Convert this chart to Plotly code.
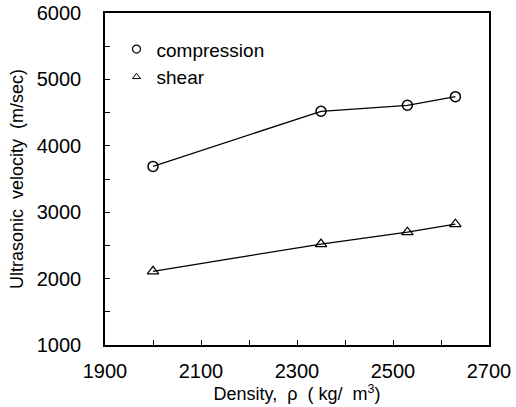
import plotly.graph_objects as go

density = [2000, 2350, 2530, 2630]
compression = [3690, 4520, 4610, 4740]
shear = [2110, 2520, 2700, 2820]

x_ticks = [1900, 2100, 2300, 2500, 2700]
y_ticks = [1000, 2000, 3000, 4000, 5000, 6000]

FONT = "Liberation Sans, Arial, sans-serif"

fig = go.Figure()
fig.add_trace(go.Scatter(x=density, y=compression, mode="lines+markers",
                         line=dict(color="black", width=1.3),
                         marker=dict(symbol="circle-open", size=10, color="black", line=dict(width=1.5)),
                         showlegend=False))
fig.add_trace(go.Scatter(x=density, y=shear, mode="lines+markers",
                         line=dict(color="black", width=1.3),
                         marker=dict(symbol="triangle-up-open", size=10, color="black", line=dict(width=1.2)),
                         showlegend=False))
fig.add_trace(go.Scatter(x=[None], y=[None], mode="markers", name="compression",
                         marker=dict(symbol="circle-open", size=8, color="black", line=dict(width=1.2))))
fig.add_trace(go.Scatter(x=[None], y=[None], mode="markers", name="shear",
                         marker=dict(symbol="triangle-up-open", size=7, color="black", line=dict(width=1))))

fig.update_layout(
    width=516, height=407,
    margin=dict(l=105, r=27, t=13, b=62),
    paper_bgcolor="white", plot_bgcolor="white",
    font=dict(family=FONT, color="black"),
    legend=dict(x=0.03, y=0.948, xanchor="left", yanchor="top",
                bgcolor="rgba(0,0,0,0)", font=dict(size=19, family=FONT),
                itemwidth=30, tracegroupgap=0),
    xaxis=dict(range=[1900, 2700], tickvals=x_ticks, ticktext=[str(v) for v in x_ticks],
               showgrid=False, zeroline=False, showline=True, linecolor="black", linewidth=1.5,
               mirror=True, ticks="inside", ticklen=5, tickcolor="black", automargin=False,
               minor=dict(dtick=100, ticks="inside", ticklen=5, tickcolor="black"),
               tickfont=dict(size=20, family=FONT), ticklabelstandoff=7,
               title=dict(text="Density,  ρ  ( kg/  m<sup>3</sup>)", font=dict(size=18, family=FONT), standoff=0)),
    yaxis=dict(range=[1000, 6000], tickvals=y_ticks, ticktext=[str(v) for v in y_ticks],
               showgrid=False, zeroline=False, showline=True, linecolor="black", linewidth=1.5,
               mirror=True, ticks="inside", ticklen=5, tickcolor="black", automargin=False,
               minor=dict(dtick=500, ticks="inside", ticklen=5, tickcolor="black"),
               tickfont=dict(size=20, family=FONT), ticklabelstandoff=18,
               title=dict(text="Ultrasonic  velocity  (m/sec)", font=dict(size=18, family=FONT), standoff=8)),
)

fig.write_html("out.html")
